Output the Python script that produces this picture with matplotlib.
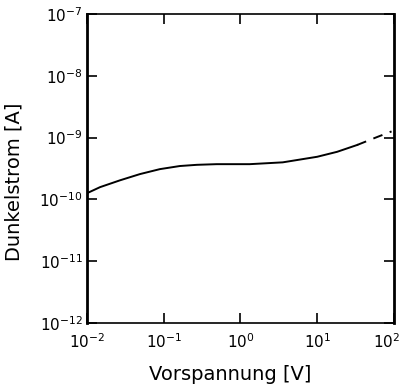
import numpy as np
import matplotlib.pyplot as plt
import matplotlib.transforms as mtransforms

plt.rcParams['font.family'] = 'DejaVu Sans'
plt.rcParams['mathtext.default'] = 'regular'

# Dunkelstrom vs. Vorspannung
spannung = [0.01, 0.0148, 0.027, 0.049, 0.089, 0.162, 0.27, 0.49, 1.32, 3.55, 10.0, 18.2, 33.1]
strom = [1.26e-10, 1.58e-10, 2.04e-10, 2.57e-10, 3.09e-10, 3.47e-10, 3.63e-10,
         3.72e-10, 3.72e-10, 3.98e-10, 4.9e-10, 5.9e-10, 7.6e-10]
# gestrichelter Teil (extrapoliert)
spannung_ext = [33.1, 60.0, 93.0]
strom_ext = [7.6e-10, 1.02e-9, 1.26e-9]

xticks = [1e-2, 1e-1, 1e0, 1e1, 1e2]
xlabels = ['$10^{-2}$', '$10^{-1}$', '$10^{0}$', '$10^{1}$', '$10^{2}$']
yticks = [1e-12, 1e-11, 1e-10, 1e-9, 1e-8, 1e-7]
ylabels = ['$10^{-12}$', '$10^{-11}$', '$10^{-10}$', '$10^{-9}$', '$10^{-8}$', '$10^{-7}$']

fig = plt.figure(figsize=(4.02, 3.91), dpi=100)
ax = fig.add_axes([0.2164, 0.174, 0.7636, 0.790])

ax.plot(spannung, strom, color='black', lw=1.4)
ax.plot(spannung_ext, strom_ext, color='black', lw=1.4, dashes=(5, 4))

ax.set_xscale('log')
ax.set_yscale('log')
ax.set_xlim(1e-2, 1e2)
ax.set_ylim(1e-12, 1e-7)
ax.set_xticks(xticks)
ax.set_xticklabels(xlabels)
ax.set_yticks(yticks)
ax.set_yticklabels(ylabels)
ax.minorticks_off()
ax.tick_params(direction='in', length=7, width=1.2, top=True, right=True,
               labelsize=11, colors='black')
ax.tick_params(axis='x', pad=7)
ax.tick_params(axis='y', pad=3)

# letzte x-Beschriftung etwas nach links, damit sie nicht abgeschnitten wird
last = ax.get_xticklabels()[-1]
last.set_transform(last.get_transform() + mtransforms.ScaledTranslation(-7 / 100, 0, fig.dpi_scale_trans))

for side in ['left', 'right']:
    ax.spines[side].set_linewidth(2.0)
for side in ['top', 'bottom']:
    ax.spines[side].set_linewidth(1.2)

ax.set_xlabel('Vorspannung [V]', fontsize=14)
ax.set_ylabel('Dunkelstrom [A]', fontsize=14)
ax.xaxis.set_label_coords(0.466, -0.135)
ax.yaxis.set_label_coords(-0.208, 0.456)

fig.savefig('out.png', dpi=100)
